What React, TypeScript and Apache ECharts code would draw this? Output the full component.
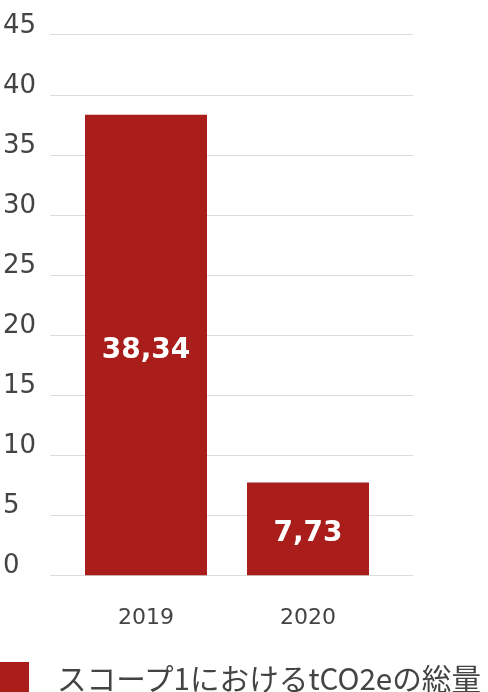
import React, { useEffect, useRef } from "react";
import * as echarts from "echarts";

const categories = ["2019", "2020"];
const values = [38.34, 7.73];
const seriesName = "スコープ1におけるtCO2eの総量";
const yMin = 0;
const yMax = 45;
const yInterval = 5;

const RED = "#A91E1A";
const TEXT = "#444444";

export default function App() {
  const ref = useRef<HTMLDivElement>(null);
  useEffect(() => {
    if (!ref.current) return;
    const chart = echarts.init(ref.current, null, { renderer: "svg" });
    const top = 34.7;
    const height = 540.6;
    chart.setOption({
      animation: false,
      grid: [
        { left: 45, top, width: 368, height },
        { left: 65, top, width: 324, height },
      ],
      xAxis: [
        { type: "value", gridIndex: 0, show: false, min: 0, max: 1 },
        {
          type: "category",
          gridIndex: 1,
          data: categories,
          axisLine: { show: false },
          axisTick: { show: false },
          axisLabel: {
            margin: 30,
            fontFamily: "DejaVu Sans",
            fontSize: 22,
            color: TEXT,
          },
        },
      ],
      yAxis: [
        {
          type: "value",
          gridIndex: 0,
          min: yMin,
          max: yMax,
          interval: yInterval,
          axisLine: { show: false },
          axisTick: { show: false },
          splitLine: { lineStyle: { color: "#dcdcdc", width: 1 } },
          axisLabel: {
            align: "left",
            margin: 47,
            verticalAlign: "bottom",
            lineHeight: 22,
            fontFamily: "DejaVu Sans",
            fontSize: 26,
            color: TEXT,
          },
        },
        {
          type: "value",
          gridIndex: 1,
          min: yMin,
          max: yMax,
          interval: yInterval,
          show: false,
          splitLine: { show: false },
        },
      ],
      legend: {
        left: 0,
        bottom: 0,
        padding: 0,
        icon: "rect",
        itemWidth: 29,
        itemHeight: 30,
        data: [seriesName],
        textStyle: {
          fontFamily: "Noto Sans CJK JP",
          fontSize: 29.6,
          color: TEXT,
          padding: [0, 0, 0, 23],
          lineHeight: 30,
        },
      },
      series: [
        {
          name: seriesName,
          type: "bar",
          xAxisIndex: 1,
          yAxisIndex: 1,
          data: values,
          barWidth: 122,
          itemStyle: { color: RED },
          label: {
            show: true,
            position: "inside",
            offset: [0, 3],
            color: "#ffffff",
            fontFamily: "DejaVu Sans",
            fontWeight: "bold",
            fontSize: 28,
            formatter: (p: any) => String(p.value).replace(".", ","),
          },
        },
      ],
    });
    return () => chart.dispose();
  }, []);
  return (
    <div
      ref={ref}
      style={{ position: "fixed", left: 0, top: 0, width: 488, height: 692 }}
    />
  );
}
